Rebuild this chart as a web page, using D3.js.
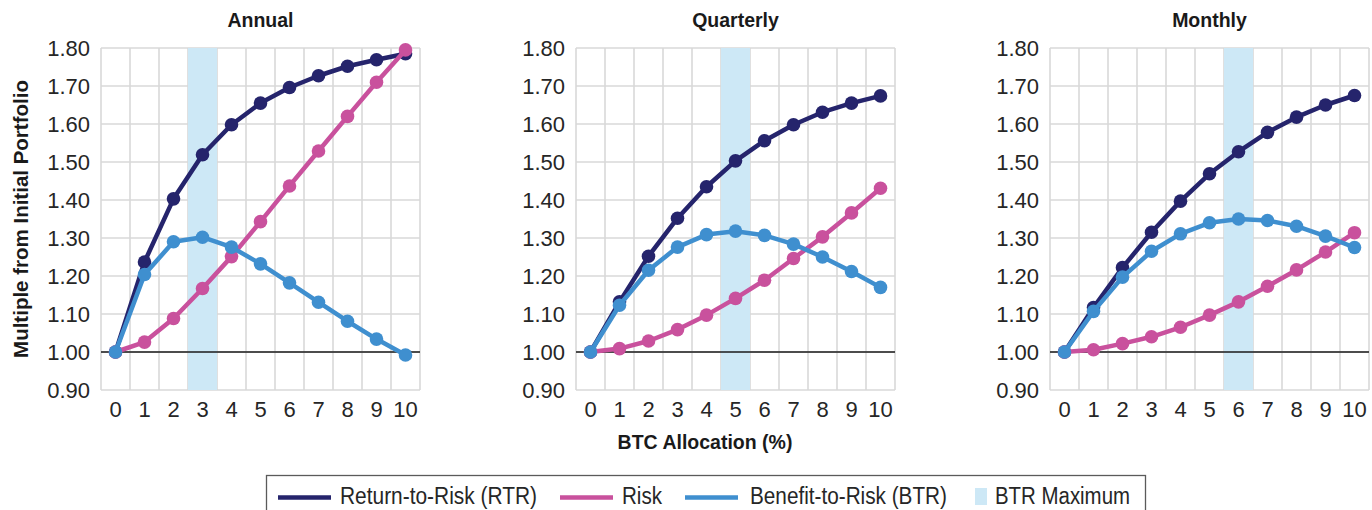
<!DOCTYPE html>
<html>
<head>
<meta charset="utf-8">
<script src="https://cdn.jsdelivr.net/npm/d3@7"></script>
<style>
  html, body { margin: 0; padding: 0; background: #ffffff; }
  svg { display: block; }
</style>
</head>
<body>
<svg id="chart" width="1372" height="510"></svg>
<script>
// BTC allocation levels (%) shared by every panel
const allocations = [0, 1, 2, 3, 4, 5, 6, 7, 8, 9, 10];
const panelTitles = ["Annual", "Quarterly", "Monthly"];

// Return-to-Risk (RTR)
const rtrAnnual    = [1.00, 1.237, 1.403, 1.519, 1.598, 1.655, 1.696, 1.727, 1.752, 1.769, 1.785];
const rtrQuarterly = [1.00, 1.132, 1.252, 1.352, 1.435, 1.503, 1.556, 1.598, 1.631, 1.655, 1.674];
const rtrMonthly   = [1.00, 1.117, 1.222, 1.315, 1.397, 1.469, 1.527, 1.578, 1.618, 1.650, 1.675];

// Risk
const riskAnnual    = [1.00, 1.026, 1.088, 1.167, 1.251, 1.343, 1.437, 1.529, 1.620, 1.710, 1.795];
const riskQuarterly = [1.00, 1.009, 1.029, 1.059, 1.097, 1.141, 1.189, 1.246, 1.303, 1.366, 1.431];
const riskMonthly   = [1.00, 1.006, 1.022, 1.040, 1.065, 1.097, 1.132, 1.173, 1.216, 1.263, 1.314];

// Benefit-to-Risk (BTR)
const btrAnnual    = [1.00, 1.204, 1.290, 1.302, 1.276, 1.232, 1.182, 1.131, 1.081, 1.034, 0.992];
const btrQuarterly = [1.00, 1.123, 1.215, 1.276, 1.309, 1.318, 1.307, 1.284, 1.250, 1.212, 1.170];
const btrMonthly   = [1.00, 1.107, 1.197, 1.265, 1.311, 1.340, 1.350, 1.346, 1.331, 1.305, 1.275];

const yTicks = [0.9, 1.0, 1.1, 1.2, 1.3, 1.4, 1.5, 1.6, 1.7, 1.8];

const seriesNames = ["Return-to-Risk (RTR)", "Risk", "Benefit-to-Risk (BTR)"];
const highlightName = "BTR Maximum";
const axisTitleY = "Multiple from Initial Portfolio";
const axisTitleX = "BTC Allocation (%)";

const colors = { rtr: "#25246c", risk: "#c9519d", btr: "#3f8fcf", band: "#cde8f6", grid: "#d9d9d9" };

const panels = [
  { title: panelTitles[0], rtr: rtrAnnual,    risk: riskAnnual,    btr: btrAnnual,    left: 101 },
  { title: panelTitles[1], rtr: rtrQuarterly, risk: riskQuarterly, btr: btrQuarterly, left: 576 },
  { title: panelTitles[2], rtr: rtrMonthly,   risk: riskMonthly,   btr: btrMonthly,   left: 1050 }
];

const plotWidth = 319, plotTop = 48, plotBottom = 390;
const font = "'Liberation Sans', Arial, Helvetica, sans-serif";
const fmt = d3.format(".2f");

const svg = d3.select("#chart");

const y = d3.scaleLinear().domain([0.9, 1.8]).range([plotBottom, plotTop]);

panels.forEach(p => {
  const x = d3.scaleBand().domain(allocations).range([p.left, p.left + plotWidth]).padding(0);
  const cx = d => x(d) + x.bandwidth() / 2;
  const g = svg.append("g");

  // grid: horizontal at each tick, vertical at category edges
  g.append("g").selectAll("line").data(yTicks).join("line")
    .attr("x1", p.left).attr("x2", p.left + plotWidth)
    .attr("y1", d => y(d)).attr("y2", d => y(d))
    .attr("stroke", colors.grid).attr("stroke-width", 1.6);
  const edges = allocations.map(d => x(d)).concat([p.left + plotWidth]);
  g.append("g").selectAll("line").data(edges).join("line")
    .attr("x1", d => d).attr("x2", d => d)
    .attr("y1", plotTop).attr("y2", plotBottom)
    .attr("stroke", colors.grid).attr("stroke-width", 1.6);

  // shade the allocation where BTR peaks
  const peak = allocations[d3.maxIndex(p.btr)];
  g.append("rect")
    .attr("x", x(peak)).attr("y", plotTop)
    .attr("width", x.bandwidth()).attr("height", plotBottom - plotTop)
    .attr("fill", colors.band);

  // reference line at 1.00
  g.append("line")
    .attr("x1", p.left).attr("x2", p.left + plotWidth)
    .attr("y1", y(1)).attr("y2", y(1))
    .attr("stroke", "#1a1a1a").attr("stroke-width", 1.3);

  // axes
  const ya = g.append("g").attr("transform", `translate(${p.left},0)`)
    .call(d3.axisLeft(y).tickValues(yTicks).tickFormat(fmt).tickSize(0).tickPadding(11));
  ya.select(".domain").remove();
  ya.selectAll("text").attr("font-family", font).attr("font-size", 22).attr("fill", "#262626");

  const xa = g.append("g").attr("transform", `translate(0,${plotBottom})`)
    .call(d3.axisBottom(x).tickSize(0).tickPadding(11));
  xa.select(".domain").remove();
  xa.selectAll("text").attr("font-family", font).attr("font-size", 22).attr("fill", "#262626");

  // title
  g.append("text")
    .attr("x", p.left + plotWidth / 2).attr("y", 27)
    .attr("text-anchor", "middle")
    .attr("font-family", font).attr("font-weight", "bold").attr("font-size", 19.5)
    .attr("fill", "#1a1a1a")
    .text(p.title);

  // series: line then markers, drawn RTR, Risk, BTR
  const line = d3.line().x((d, i) => cx(allocations[i])).y(d => y(d));
  [["rtr", p.rtr], ["risk", p.risk], ["btr", p.btr]].forEach(([key, vals]) => {
    g.append("path").datum(vals)
      .attr("d", line)
      .attr("fill", "none").attr("stroke", colors[key])
      .attr("stroke-width", 4.5).attr("stroke-linejoin", "round");
    g.append("g").selectAll("circle").data(vals).join("circle")
      .attr("cx", (d, i) => cx(allocations[i])).attr("cy", d => y(d))
      .attr("r", 6.8).attr("fill", colors[key]);
  });
});

// axis titles
svg.append("text")
  .attr("transform", `translate(28,${(plotTop + plotBottom) / 2}) rotate(-90)`)
  .attr("text-anchor", "middle")
  .attr("font-family", font).attr("font-weight", "bold").attr("font-size", 20.5)
  .attr("fill", "#1a1a1a")
  .text(axisTitleY);

svg.append("text")
  .attr("x", 705).attr("y", 449)
  .attr("text-anchor", "middle")
  .attr("font-family", font).attr("font-weight", "bold").attr("font-size", 19.5)
  .attr("fill", "#1a1a1a")
  .text(axisTitleX);

// legend
const legend = svg.append("g");
legend.append("rect")
  .attr("x", 266.5).attr("y", 475.5).attr("width", 879).attr("height", 60)
  .attr("fill", "#ffffff").attr("stroke", "#5a5a5a").attr("stroke-width", 1.3);

const legendItems = [
  { label: seriesNames[0], color: colors.rtr,  kind: "line", x: 278, tx: 340, tw: 197 },
  { label: seriesNames[1], color: colors.risk, kind: "line", x: 560, tx: 622, tw: 40 },
  { label: seriesNames[2], color: colors.btr,  kind: "line", x: 685, tx: 750, tw: 197 },
  { label: highlightName,  color: colors.band, kind: "rect", x: 975, tx: 995, tw: 135 }
];
legendItems.forEach(it => {
  if (it.kind === "line") {
    legend.append("line")
      .attr("x1", it.x).attr("x2", it.x + 53)
      .attr("y1", 497.5).attr("y2", 497.5)
      .attr("stroke", it.color).attr("stroke-width", 4.5);
  } else {
    legend.append("rect")
      .attr("x", it.x).attr("y", 488).attr("width", 12).attr("height", 17)
      .attr("fill", it.color);
  }
  legend.append("text")
    .attr("x", it.tx).attr("y", 504)
    .attr("font-family", font).attr("font-size", 23)
    .attr("textLength", it.tw).attr("lengthAdjust", "spacingAndGlyphs")
    .attr("fill", "#262626")
    .text(it.label);
});
</script>
</body>
</html>
